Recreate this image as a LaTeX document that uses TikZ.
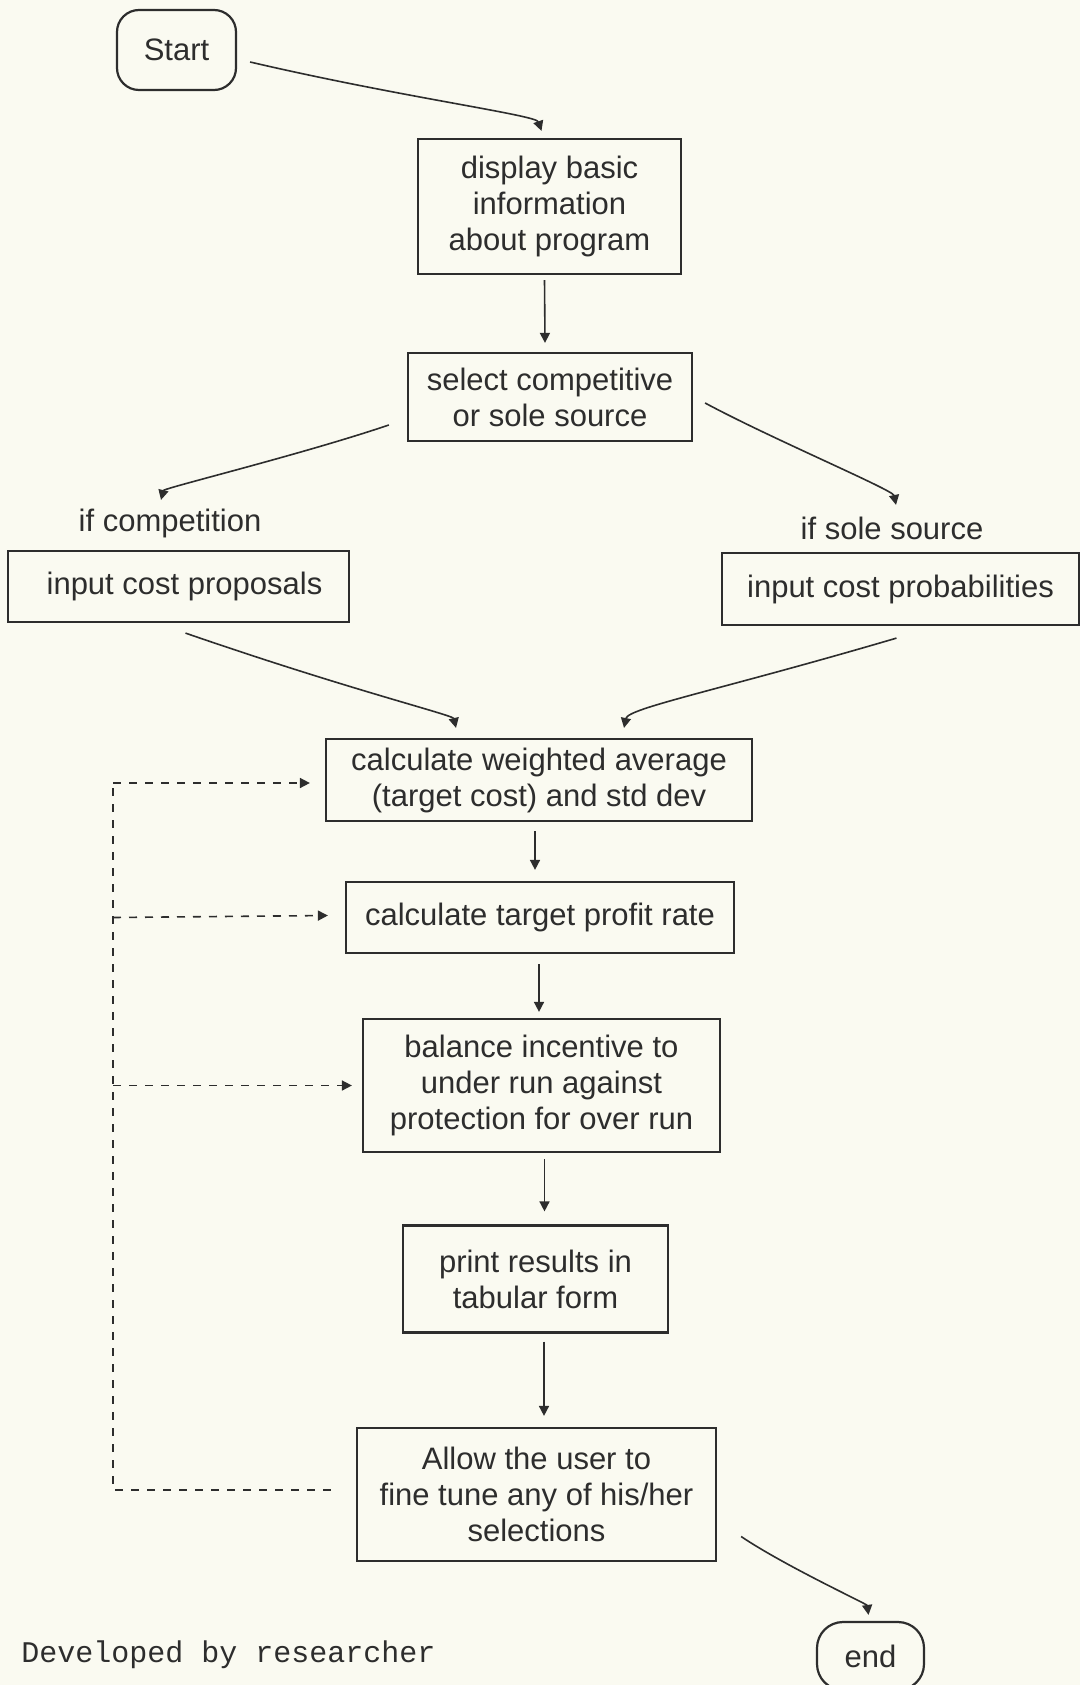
\documentclass[tikz,border=0pt]{standalone}
\usepackage{fontspec}
\setmainfont{Liberation Sans}
\newfontfamily\typewriter{Liberation Mono}
\usetikzlibrary{arrows.meta,calc}
\definecolor{bg}{RGB}{250,250,241}
\definecolor{ink}{RGB}{45,45,45}
\begin{document}
\begin{tikzpicture}[x=0.5pt,y=-0.5pt,
  box/.style={draw=ink, line width=1.1pt, inner sep=0pt, align=center, text=ink,
              font=\fontsize{15.5}{18}\selectfont},
  term/.style={box, rounded corners=11pt},
  lbl/.style={inner sep=0pt, text=ink, font=\fontsize{15.5}{18}\selectfont},
  arr/.style={draw=ink, line width=0.8pt, -{Triangle[length=5pt,width=5pt]}},
  dashline/.style={draw=ink, line width=0.8pt, dash pattern=on 4pt off 4pt},
  dasharr/.style={dashline, -{Triangle[length=5pt,width=5pt]}}
]
\path[clip] (0,0) rectangle (1080,1685);
\fill[bg] (0,0) rectangle (1080,1685);
\useasboundingbox (0,0) rectangle (1080,1685);

% nodes
\node[term, minimum width=59.5pt, minimum height=40pt] (start) at (176.5,50) {Start};
\node[box, minimum width=131.5pt, minimum height=67.5pt] (display) at (549.5,206.5) {display basic\\information\\about program};
\node[box, minimum width=142pt, minimum height=44pt] (select) at (550,397) {select competitive\\or sole source};
\node[lbl] (lbl1) at (170,523) {if competition};
\node[lbl] (lbl2) at (892,528) {if sole source};
\node[box, minimum width=170.5pt, minimum height=35.5pt] (left) at (178.5,586.5) {\hspace*{6pt}input cost proposals};
\node[box, minimum width=178.5pt, minimum height=36pt] (right) at (900.5,589) {input cost probabilities};
\node[box, minimum width=213pt, minimum height=41pt] (calc) at (539,780) {calculate weighted average\\(target cost) and std dev};
\node[box, minimum width=194pt, minimum height=35.5pt] (profit) at (540,917.5) {calculate target profit rate};
\node[box, minimum width=178.5pt, minimum height=66.5pt] (balance) at (541.5,1085.5) {balance incentive to\\under run against\\protection for over run};
\node[box, minimum width=132.5pt, minimum height=53.5pt] (print) at (535.5,1279) {print results in\\tabular form};
\node[box, minimum width=179.5pt, minimum height=66.5pt] (allow) at (536.5,1494.5) {Allow the user to\\fine tune any of his/her\\selections};
\node[term, rounded corners=13pt, minimum width=53.5pt, minimum height=34pt] (end) at (870.5,1656) {end};
\node[inner sep=0pt, anchor=west, text=ink, font=\typewriter\fontsize{15}{18}\selectfont] (dev) at (21,1655) {Developed by researcher};

% solid connectors
\draw[arr] ($(start.east)+(13,12)$) .. controls (400,97) and (536,115) .. ($(display.north)+(-8,-7)$);
\draw[arr] ($(display.south)+(-5,5)$) -- ($(select.north)+(-5,-9)$);
\draw[arr] ($(select.west)+(-18,28)$) .. controls (300,455) and (164,488) .. ($(left.north)+(-17.5,-50)$);
\draw[arr] ($(select.east)+(12,6)$) .. controls (770,438) and (893,490) .. ($(right.north)+(-4.5,-47)$);
\draw[arr] ($(left.south)+(7,10)$) .. controls (350,690) and (453,715) .. ($(calc.north)+(-83,-10)$);
\draw[arr] ($(right.south)+(-4,12)$) .. controls (720,690) and (628,708) .. ($(calc.north)+(85,-10)$);
\draw[arr] ($(calc.south)+(-4,9)$) -- ($(profit.north)+(-5,-11)$);
\draw[arr] ($(profit.south)+(-1,10)$) -- ($(balance.north)+(-2.5,-6)$);
\draw[arr] ($(balance.south)+(3,6)$) -- ($(print.north)+(9,-13)$);
\draw[arr] ($(print.south)+(8.5,8)$) -- ($(allow.north)+(7.5,-11)$);
\draw[arr] ($(allow.east)+(24,42)$) .. controls (785,1566) and (867,1604) .. ($(end.north)+(-2,-6)$);

% dashed feedback loop
\coordinate (loopbot) at (113,1490);
\coordinate (looptop) at (113,783);
\draw[dashline] ($(allow.west)+(-25,-4.5)$) -- (loopbot) -- (looptop);
\draw[dasharr] (looptop) -- ($(calc.west)+(-15,3)$);
\draw[dasharr] (looptop |- profit.west) -- ($(profit.west)+(-17,-2)$);
\draw[dasharr] (looptop |- balance.west) -- ($(balance.west)+(-10,0)$);
\end{tikzpicture}
\end{document}
